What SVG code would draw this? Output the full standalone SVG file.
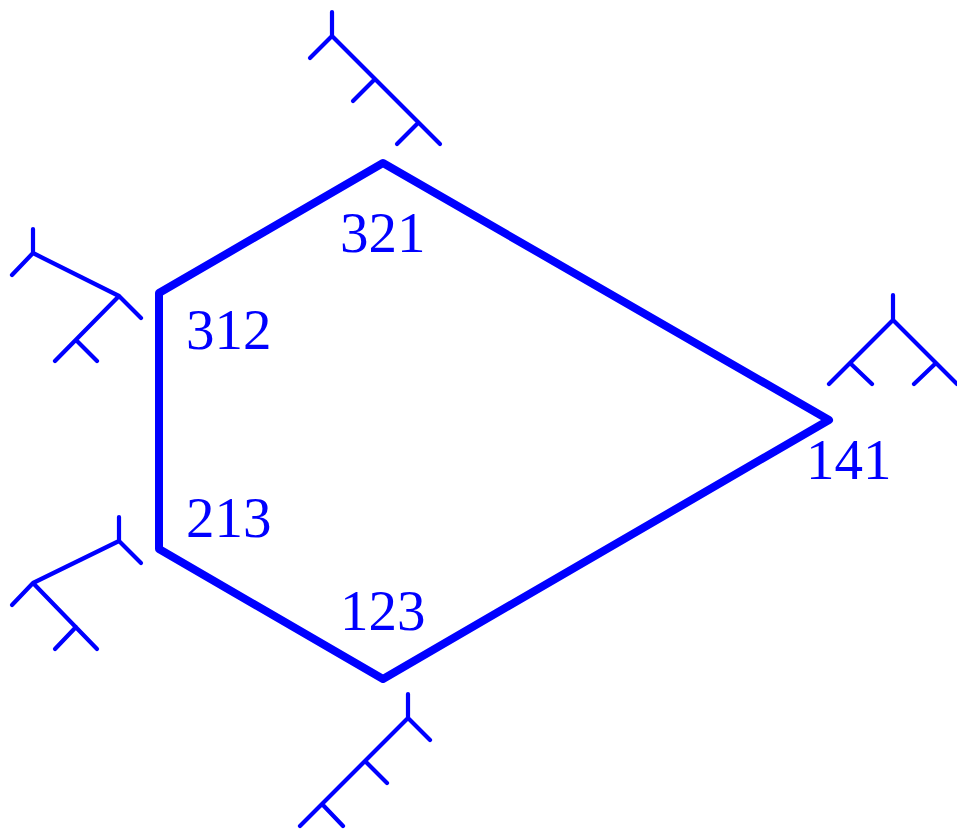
<svg xmlns="http://www.w3.org/2000/svg" width="957" height="832" viewBox="0 0 957 832">
<style>
.poly{fill:none;stroke:#0000ff;stroke-width:8;stroke-linejoin:round;stroke-linecap:round}
.tree{fill:none;stroke:#0000ff;stroke-width:4.2;stroke-linecap:round;stroke-linejoin:round}
.lbl{font-family:"Liberation Serif","DejaVu Serif",serif;font-size:57px;fill:#0000ff}
</style>
<rect width="957" height="832" fill="#ffffff"/>
<g id="connectors">
<polygon class="poly" points="383,163 159,293 159,549 383,679 829,420"/>
</g>
<g id="node-321">
<path class="tree" d="M332,12 V36 M332,36 L310,58 M332,36 L440,144 M375,79 L353,101 M418,123 L397,144"/>
<text class="lbl" x="340" y="252">321</text>
</g>
<g id="node-312">
<path class="tree" d="M33,229 V253 M33,253 L12,275 M33,253 L119,296 M119,296 L141,318 M119,296 L55,361 M76,340 L97,361"/>
<text class="lbl" x="186" y="349">312</text>
</g>
<g id="node-213">
<path class="tree" d="M119,517 V541 M119,541 L141,563 M119,541 L33,583 M33,583 L12,605 M33,583 L97,649 M76,627 L55,649"/>
<text class="lbl" x="186" y="537">213</text>
</g>
<g id="node-123">
<path class="tree" d="M408,694 V718 M408,718 L430,740 M408,718 L300,826 M365,761 L387,783 M322,804 L343,826"/>
<text class="lbl" x="340" y="630">123</text>
</g>
<g id="node-141">
<path class="tree" d="M893,295 V320 M893,320 L829,384 M850,363 L872,384 M893,320 L957,384 M936,363 L914,384"/>
<text class="lbl" x="806" y="479">141</text>
</g>
</svg>
